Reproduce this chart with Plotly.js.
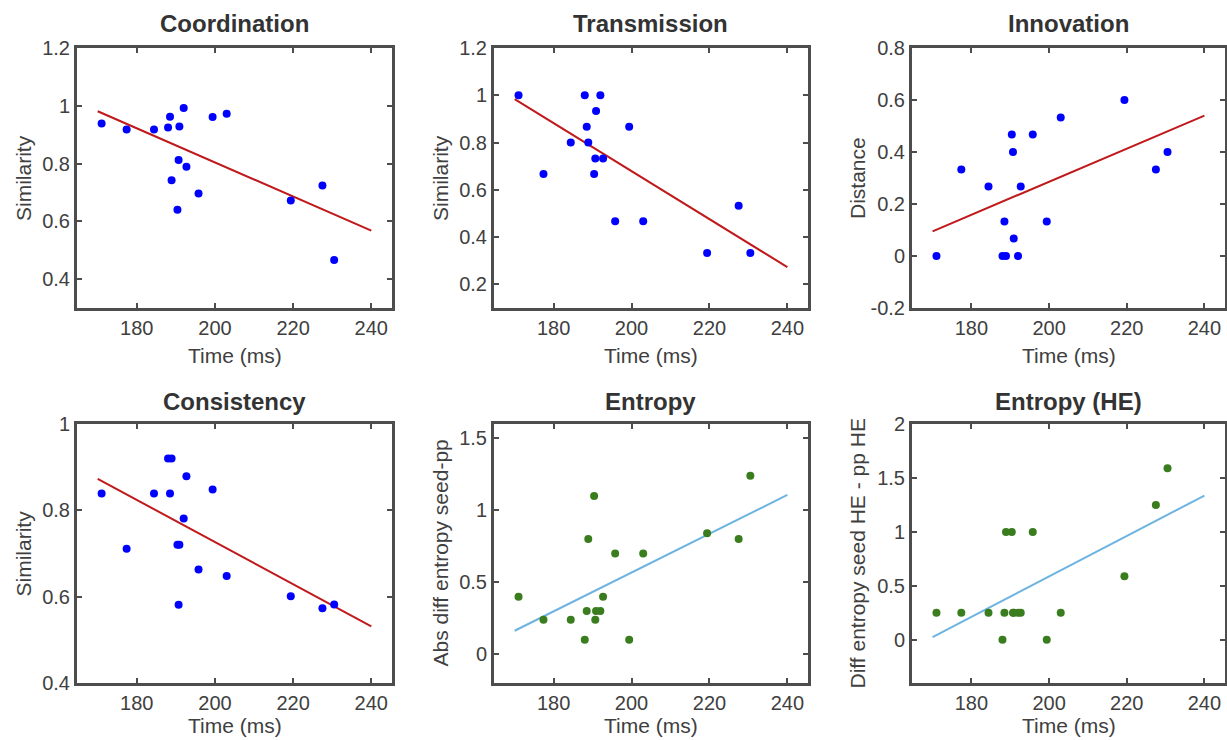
<!DOCTYPE html>
<html>
<head>
<meta charset="utf-8">
<script src="https://cdn.plot.ly/plotly-3.0.1.min.js"></script>
<style>html,body{margin:0;padding:0;background:#fff;}#chart{width:1227px;height:740px;}</style>
</head>
<body>
<div id="chart"></div>
<script>
// ---- data ----
const timeMs       = [171.0, 177.4, 184.4, 188.0, 188.5, 188.9, 190.4, 190.7, 190.9, 192.0, 192.7, 195.8, 199.4, 203.0, 219.4, 227.5, 230.5];
const coordination = [0.939, 0.918, 0.918, 0.925, 0.962, 0.742, 0.640, 0.812, 0.928, 0.992, 0.789, 0.696, 0.961, 0.972, 0.672, 0.724, 0.466];
const transmission = [1.000, 0.667, 0.800, 1.000, 0.867, 0.800, 0.667, 0.733, 0.933, 1.000, 0.733, 0.467, 0.867, 0.467, 0.333, 0.533, 0.333];
const innovation   = [0.000, 0.333, 0.267, 0.000, 0.133, 0.000, 0.467, 0.400, 0.067, 0.000, 0.267, 0.467, 0.133, 0.533, 0.600, 0.333, 0.400];
const consistency  = [0.839, 0.711, 0.839, 0.920, 0.839, 0.920, 0.720, 0.581, 0.720, 0.781, 0.879, 0.663, 0.848, 0.648, 0.601, 0.573, 0.582];
const entropy      = [0.40, 0.24, 0.24, 0.10, 0.30, 0.80, 1.10, 0.24, 0.30, 0.30, 0.40, 0.70, 0.10, 0.70, 0.84, 0.80, 1.24];
const entropyHE    = [0.25, 0.25, 0.25, 0.00, 0.25, 1.00, 1.00, 0.25, 0.25, 0.25, 0.25, 1.00, 0.00, 0.25, 0.59, 1.25, 1.59];

const fitX             = [170, 240];
const coordinationFit  = [0.981, 0.568];
const transmissionFit  = [0.984, 0.273];
const innovationFit    = [0.095, 0.540];
const consistencyFit   = [0.873, 0.531];
const entropyFit       = [0.163, 1.107];
const entropyHEFit     = [0.025, 1.337];

const panelTitles = ['Coordination', 'Transmission', 'Innovation', 'Consistency', 'Entropy', 'Entropy (HE)'];
const yTitles = ['Similarity', 'Similarity', 'Distance', 'Similarity', 'Abs diff entropy seed-pp', 'Diff entropy seed HE - pp HE'];
const xTitle = 'Time (ms)';
const xTickVals = [180, 200, 220, 240];
const xTickText = ['180', '200', '220', '240'];
const yTickVals = [
  [0.4, 0.6, 0.8, 1.0, 1.2],
  [0.2, 0.4, 0.6, 0.8, 1.0, 1.2],
  [-0.2, 0, 0.2, 0.4, 0.6, 0.8],
  [0.4, 0.6, 0.8, 1.0],
  [0, 0.5, 1, 1.5],
  [0, 0.5, 1, 1.5, 2]
];
const yTickText = [
  ['0.4', '0.6', '0.8', '1', '1.2'],
  ['0.2', '0.4', '0.6', '0.8', '1', '1.2'],
  ['-0.2', '0', '0.2', '0.4', '0.6', '0.8'],
  ['0.4', '0.6', '0.8', '1'],
  ['0', '0.5', '1', '1.5'],
  ['0', '0.5', '1', '1.5', '2']
];
const yRanges = [[0.3, 1.2], [0.1, 1.2], [-0.2, 0.8], [0.4, 1.0], [-0.2, 1.6], [-0.4, 2.0]];
const xRange = [164.7, 245.3];

// ---- styling / layout ----
const W = 1227, H = 740;
const colsPx = [[77, 392], [494, 808], [912, 1225]];
const rowsPx = [[48, 308], [424, 683]];
const yTitleX = [23, 440, 857];
const titleGap = [9, 7];
const xTitleGap = [47, 42];

const seriesY = [coordination, transmission, innovation, consistency, entropy, entropyHE];
const fitY = [coordinationFit, transmissionFit, innovationFit, consistencyFit, entropyFit, entropyHEFit];
const dotColors = ['#0000ff', '#0000ff', '#0000ff', '#0000ff', '#3a7d1f', '#3a7d1f'];
const lineColors = ['#c0191b', '#c0191b', '#c0191b', '#c0191b', '#6db4e0', '#6db4e0'];

const FONT = '"Liberation Sans", Arial, Helvetica, sans-serif';
const frameColor = '#4d4d4d';
const textColor = '#404040';

const traces = [];
const layout = {
  width: W, height: H,
  margin: {l: 0, r: 0, t: 0, b: 0},
  paper_bgcolor: '#ffffff', plot_bgcolor: '#ffffff',
  showlegend: false,
  font: {family: FONT, color: textColor},
  annotations: []
};

for (let i = 0; i < 6; i++) {
  const r = Math.floor(i / 3), c = i % 3;
  const sfx = i === 0 ? '' : String(i + 1);
  const xa = 'x' + sfx, ya = 'y' + sfx;
  traces.push({
    type: 'scatter', mode: 'lines', x: fitX, y: fitY[i], xaxis: xa, yaxis: ya,
    line: {color: lineColors[i], width: 2}, hoverinfo: 'skip'
  });
  traces.push({
    type: 'scatter', mode: 'markers', x: timeMs, y: seriesY[i], xaxis: xa, yaxis: ya,
    marker: {color: dotColors[i], size: 8, line: {width: 0}}
  });
  const common = {
    showline: true, mirror: 'ticks', linecolor: frameColor, linewidth: 3,
    ticks: 'inside', ticklen: 5, tickwidth: 2, tickcolor: frameColor,
    showgrid: false, zeroline: false, fixedrange: true,
    tickfont: {family: FONT, size: 20, color: textColor}
  };
  const [x0, x1] = colsPx[c], [y0, y1] = rowsPx[r];
  layout['xaxis' + sfx] = Object.assign({}, common, {
    domain: [x0 / W, x1 / W], anchor: ya, range: xRange,
    tickvals: xTickVals, ticktext: xTickText
  });
  layout['yaxis' + sfx] = Object.assign({}, common, {
    domain: [1 - y1 / H, 1 - y0 / H], anchor: xa, range: yRanges[i],
    tickvals: yTickVals[i], ticktext: yTickText[i]
  });
  // subplot title
  layout.annotations.push({
    text: '<b>' + panelTitles[i] + '</b>', xref: 'paper', yref: 'paper',
    x: (x0 + x1) / 2 / W, y: 1 - (y0 - titleGap[r]) / H, xanchor: 'center', yanchor: 'bottom',
    showarrow: false, font: {family: FONT, size: 24, color: '#333333'}
  });
  // x axis title
  layout.annotations.push({
    text: xTitle, xref: 'paper', yref: 'paper',
    x: (x0 + x1) / 2 / W, y: 1 - (y1 + xTitleGap[r]) / H, xanchor: 'center', yanchor: 'middle',
    showarrow: false, font: {family: FONT, size: 21, color: textColor}
  });
  // y axis title
  layout.annotations.push({
    text: yTitles[i], xref: 'paper', yref: 'paper', textangle: -90,
    x: yTitleX[c] / W, y: 1 - ((y0 + y1) / 2) / H, xanchor: 'center', yanchor: 'middle',
    showarrow: false, font: {family: FONT, size: 21, color: textColor}
  });
}

Plotly.newPlot('chart', traces, layout, {displayModeBar: false, staticPlot: true});
</script>
</body>
</html>
